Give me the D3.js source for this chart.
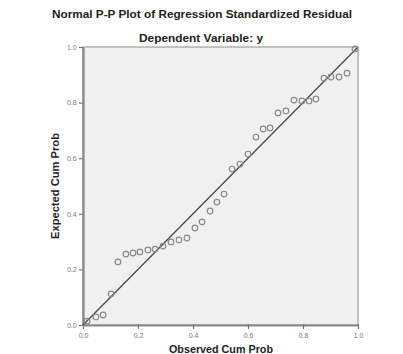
<!DOCTYPE html>
<html><head><meta charset="utf-8">
<script src="https://cdn.jsdelivr.net/npm/d3@7"></script>
<style>body{margin:0;background:#fff}svg{display:block}</style>
</head><body>
<script>
const observedCumProb = [0.015,0.047,0.073,0.102,0.127,0.156,0.182,0.207,0.236,0.262,0.291,0.320,0.349,0.378,0.407,0.433,0.462,0.487,0.513,0.542,0.571,0.600,0.629,0.655,0.680,0.709,0.738,0.767,0.796,0.822,0.847,0.876,0.902,0.931,0.960,0.989];
const expectedCumProb = [0.014,0.029,0.036,0.112,0.227,0.255,0.259,0.263,0.270,0.273,0.284,0.299,0.306,0.313,0.349,0.371,0.410,0.442,0.471,0.561,0.579,0.615,0.676,0.705,0.709,0.763,0.770,0.809,0.806,0.806,0.813,0.888,0.892,0.892,0.906,0.993];
const tickValues = [0.0,0.2,0.4,0.6,0.8,1.0];
const refLine = [[0,0],[1,1]];
const title = "Normal P-P Plot of Regression Standardized Residual";
const subtitle = "Dependent Variable: y";
const xTitle = "Observed Cum Prob";
const yTitle = "Expected Cum Prob";

const W = 403, H = 354;
const m = {l:83, r:45, t:47, b:29};
const svg = d3.select("body").append("svg").attr("width",W).attr("height",H)
  .style("font-family","'Liberation Sans', Arial, sans-serif");

const x = d3.scaleLinear().domain([0,1]).range([m.l, W-m.r]);
const y = d3.scaleLinear().domain([0,1]).range([H-m.b, m.t]);

svg.append("rect").attr("x",x(0)).attr("y",y(1)).attr("width",x(1)-x(0)).attr("height",y(0)-y(1))
  .attr("fill","#f0f0f0").attr("stroke","#b0b0b0").attr("stroke-width",1.5);

const fmt = d3.format(".1f");
const xa = svg.append("g").attr("transform",`translate(0,${y(0)})`)
  .call(d3.axisBottom(x).tickValues(tickValues).tickFormat(fmt).tickSize(4).tickSizeOuter(0));
const ya = svg.append("g").attr("transform",`translate(${x(0)},0)`)
  .call(d3.axisLeft(y).tickValues(tickValues).tickFormat(fmt).tickSize(4).tickSizeOuter(0));
[xa,ya].forEach(a=>{
  a.select(".domain").attr("stroke","#888").attr("stroke-width",2.2);
  a.selectAll(".tick line").attr("stroke","#777").attr("stroke-width",1.2);
  a.selectAll(".tick text").attr("fill","#777").style("font-size","7px");
});
xa.selectAll(".tick line").attr("y2",-1).attr("y1",4);
xa.selectAll(".tick text").attr("dy","0.9em");
ya.selectAll(".tick text").attr("dx","0.1em");

svg.append("line")
  .attr("x1",x(refLine[0][0])).attr("y1",y(refLine[0][1]))
  .attr("x2",x(refLine[1][0])).attr("y2",y(refLine[1][1]))
  .attr("stroke","#4a4a4a").attr("stroke-width",1.3);

svg.append("g").selectAll("circle").data(observedCumProb.map((v,i)=>[v,expectedCumProb[i]]))
  .join("circle").attr("cx",d=>x(d[0])).attr("cy",d=>y(d[1])).attr("r",2.8)
  .attr("fill","none").attr("stroke","#8a8a8a").attr("stroke-width",1.2);

svg.append("text").attr("x",202).attr("y",18).attr("text-anchor","middle")
  .attr("font-weight","bold").attr("font-size",10.5).attr("fill","#222")
  .attr("textLength",300).attr("lengthAdjust","spacingAndGlyphs").text(title);
svg.append("text").attr("x",201).attr("y",42).attr("text-anchor","middle")
  .attr("font-weight","bold").attr("font-size",10.5).attr("fill","#222")
  .attr("textLength",124).attr("lengthAdjust","spacingAndGlyphs").text(subtitle);
svg.append("text").attr("x",221).attr("y",353).attr("text-anchor","middle")
  .attr("font-weight","bold").attr("font-size",10).attr("fill","#222")
  .attr("textLength",104).attr("lengthAdjust","spacingAndGlyphs").text(xTitle);
svg.append("text").attr("transform","translate(59,186) rotate(-90)").attr("text-anchor","middle")
  .attr("font-weight","bold").attr("font-size",10).attr("fill","#222")
  .attr("textLength",106).attr("lengthAdjust","spacingAndGlyphs").text(yTitle);
</script>
</body></html>
